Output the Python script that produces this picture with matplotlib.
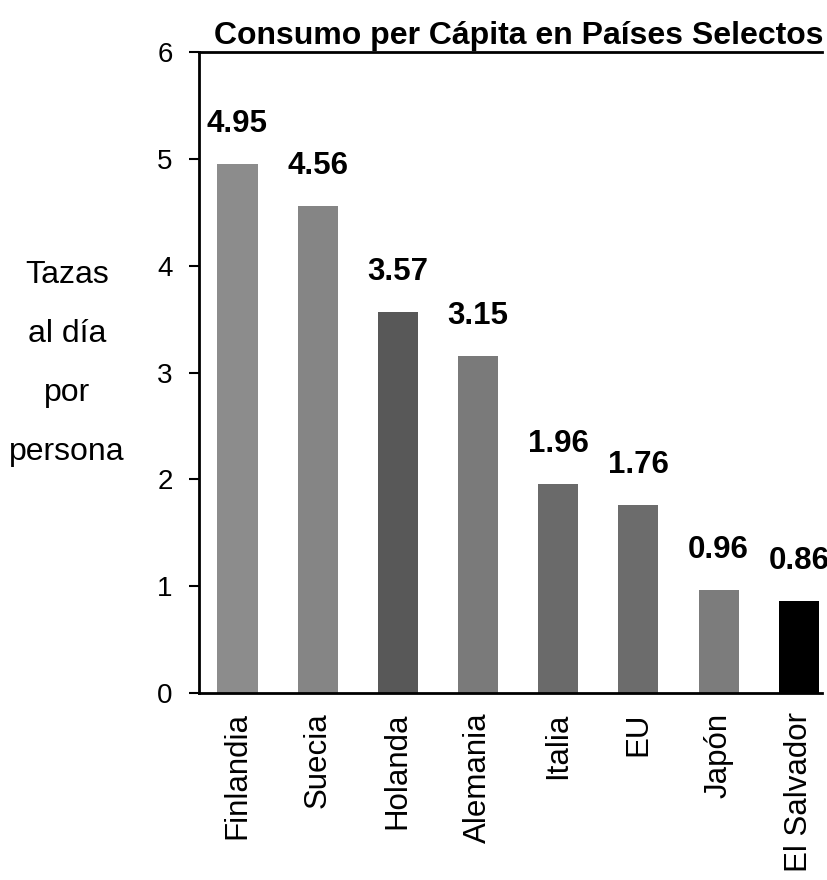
import matplotlib
matplotlib.use("Agg")
import matplotlib.pyplot as plt

plt.rcParams['font.family'] = ['Liberation Sans', 'DejaVu Sans']

countries = ["Finlandia", "Suecia", "Holanda", "Alemania", "Italia", "EU", "Japón", "El Salvador"]
values = [4.95, 4.56, 3.57, 3.15, 1.96, 1.76, 0.96, 0.86]
value_labels = ["4.95", "4.56", "3.57", "3.15", "1.96", "1.76", "0.96", "0.86"]
bar_colors = ["#8c8c8c", "#858585", "#585858", "#7a7a7a", "#6a6a6a", "#6c6c6c", "#7c7c7c", "#000000"]
yticks = [0, 1, 2, 3, 4, 5, 6]

fig = plt.figure(figsize=(8.27, 8.8), dpi=100)
ax = fig.add_axes([0.2406, 0.2125, 0.7534, 0.7284])

x = list(range(len(countries)))
ax.bar(x, values, width=0.5, color=bar_colors)
ax.set_xlim(-0.48, 7.29)
ax.set_ylim(0, 6)
ax.set_yticks(yticks)
ax.set_yticklabels([str(t) for t in yticks], fontsize=20)
ax.set_xticks(x)
ax.set_xticklabels(countries, rotation=90, fontsize=22.5)
ax.tick_params(axis='x', length=0, pad=14)
ax.tick_params(axis='y', length=7, width=1.5, pad=12, direction='out')

for s in ['left', 'bottom', 'top']:
    ax.spines[s].set_linewidth(2)
ax.spines['right'].set_visible(False)

for xi, v, lab in zip(x, values, value_labels):
    ax.annotate(lab, (xi, v), xytext=(0, 18), textcoords='offset points',
                ha='center', va='bottom', fontsize=22.5, fontweight='bold')

ax.set_title("Consumo per Cápita en Países Selectos", fontsize=23, fontweight='bold',
             pad=6, x=0.514)

fig.text(0.081, 0.587, "Tazas\nal día\npor\npersona", ha='center', va='center',
         fontsize=23, linespacing=2.25)

fig.savefig("out.png", dpi=100)
